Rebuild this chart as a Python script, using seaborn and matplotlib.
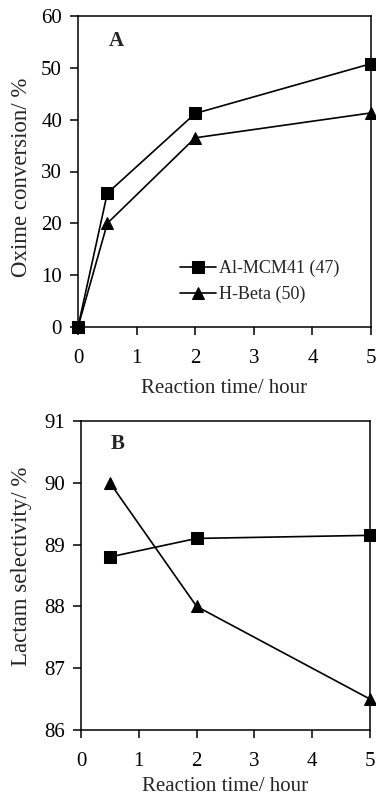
import matplotlib
matplotlib.use("Agg")
import matplotlib.pyplot as plt
import seaborn as sns
import pandas as pd

# Panel A data
time_a = [0, 0.5, 2, 5]
mcm_conv = [0, 25.8, 41.2, 50.8]
beta_conv = [0, 20.0, 36.5, 41.3]

# Panel B data
time_b = [0.5, 2, 5]
mcm_sel = [88.8, 89.1, 89.15]
beta_sel = [90.0, 88.0, 86.5]

series_names = ["Al-MCM41 (47)", "H-Beta (50)"]

sns.set_theme(style="ticks")
plt.rcParams['font.family'] = ['Liberation Serif', 'DejaVu Serif']

W, H = 376, 797
fig = plt.figure(figsize=(W / 100, H / 100), dpi=100)

def pos(l, t, r, b):
    return [l / W, (H - b) / H, (r - l) / W, (b - t) / H]

axA = fig.add_axes(pos(78, 16, 371, 327))
axB = fig.add_axes(pos(81, 421, 370, 730))

dfA = pd.DataFrame({
    "t": time_a * 2,
    "v": mcm_conv + beta_conv,
    "s": [series_names[0]] * len(time_a) + [series_names[1]] * len(time_a),
})
dfB = pd.DataFrame({
    "t": time_b * 2,
    "v": mcm_sel + beta_sel,
    "s": [series_names[0]] * len(time_b) + [series_names[1]] * len(time_b),
})

FS = 15
for ax, df in [(axA, dfA), (axB, dfB)]:
    sns.lineplot(data=df, x="t", y="v", hue="s", style="s",
                 palette=["black", "black"],
                 markers={series_names[0]: "s", series_names[1]: "^"},
                 dashes=False, markersize=8.5, linewidth=1.2,
                 markeredgecolor="black", ax=ax, legend=(ax is axA),
                 clip_on=False)
    for sp in ax.spines.values():
        sp.set_visible(True)
        sp.set_color("black")
        sp.set_linewidth(1.1)
    ax.tick_params(axis="both", direction="out", length=5.5, width=1.1,
                   colors="black", labelsize=FS)
    ax.tick_params(axis="x", pad=10)
    ax.tick_params(axis="y", pad=6)
    ax.set_xlim(0, 5)
    ax.set_xticks(range(0, 6))
    ax.grid(False)

axA.set_xlabel("Reaction time/ hour", fontsize=FS, labelpad=8)
axB.set_xlabel("Reaction time/ hour", fontsize=FS, labelpad=5)

axA.set_ylim(0, 60)
axA.set_yticks(range(0, 61, 10))
axA.set_ylabel("Oxime conversion/ %", fontsize=16.5)
axA.yaxis.set_label_coords(-0.157, 0.48)
axA.text(0.13, 0.92, "A", transform=axA.transAxes, fontsize=FS,
         fontweight="bold", ha="center", va="center")

axB.set_ylim(86, 91)
axB.set_yticks(range(86, 92))
axB.set_ylabel("Lactam selectivity/ %", fontsize=16.5)
axB.yaxis.set_label_coords(-0.168, 0.53)
axB.text(0.128, 0.925, "B", transform=axB.transAxes, fontsize=FS,
         fontweight="bold", ha="center", va="center")

leg = axA.legend(loc="upper left", bbox_to_anchor=(0.348, 0.215),
                 frameon=False, fontsize=13, handlelength=2.0,
                 handletextpad=0.15, borderaxespad=0, labelspacing=0.47,
                 borderpad=0, title=None)

fig.savefig("out.png", dpi=100)
